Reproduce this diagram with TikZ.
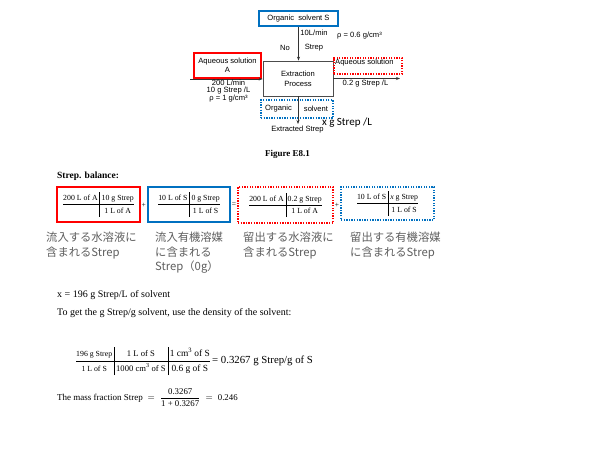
\documentclass[tikz,border=0pt]{standalone}
\usepackage{fontspec}
\usepackage{amsmath}
\setmainfont{Liberation Serif}
\newfontfamily\arialf{Liberation Sans}
\newfontfamily\jpf{Noto Sans CJK JP}
\newfontfamily\calf{Carlito}
\usetikzlibrary{arrows.meta}
\definecolor{obl}{RGB}{0,112,192}
\definecolor{ored}{RGB}{255,0,0}
\definecolor{jgray}{RGB}{95,95,95}
\newcommand{\convterm}[3]{\setlength{\tabcolsep}{2pt}\renewcommand{\arraystretch}{1.4}\begin{tabular}{@{}c|c@{}}#1&#2\\\hline &#3\end{tabular}}
\newcommand{\szA}{\fontsize{7.8}{9}\selectfont}
\newcommand{\szB}{\fontsize{8.6}{9}\selectfont}
\newcommand{\szC}{\fontsize{9.4}{9}\selectfont}
\tikzset{
 lbl/.style={font=\arialf\fontsize{7.6}{8}\selectfont, inner sep=0pt},
 flow/.style={draw=black!80, line width=0.7pt, -{Stealth[length=4pt,width=3pt]}},
 solidbox/.style={draw, line width=1.3pt},
 dotbox/.style={draw, line width=1.3pt, dash pattern=on 1.3pt off 1.3pt},
 jp/.style={font=\jpf\fontsize{11.3}{14.5}\selectfont, text=jgray, align=left, anchor=north west, inner sep=0pt},
 term/.style={font=\fontsize{7.8}{8.5}\selectfont, inner sep=0pt},
 opsign/.style={font=\fontsize{7.5}{8}\selectfont, inner sep=0pt},
 serif/.style={inner sep=0pt, anchor=west}
}
\begin{document}
\begin{tikzpicture}[x=1pt,y=-1pt]
\path[fill=white] (0,0) rectangle (600,450);
\useasboundingbox (0,0) rectangle (600,450);

% ---------- flow diagram ----------
\node[solidbox, draw=obl, minimum width=79pt, minimum height=15pt, lbl] (os) at (298.5,18.5) {Organic\ \ solvent S};
\node[draw=black!70, line width=0.8pt, minimum width=70pt, minimum height=35pt, lbl, align=center, font=\arialf\fontsize{7.6}{10}\selectfont] (ep) at (298,78.5) {Extraction\\Process};
\node[solidbox, draw=ored, minimum width=67pt, minimum height=25pt, lbl, align=center, font=\arialf\fontsize{7.6}{9}\selectfont] (aq) at (227.5,65.5) {Aqueous solution\\A};
\node[dotbox, draw=ored, minimum width=68pt, minimum height=16pt, inner sep=0pt] (aqo) at (368,66) {};
\node[lbl, anchor=west] (aqot) at (335,63) {Aqueous solution};
\node[dotbox, draw=obl, minimum width=72pt, minimum height=18pt, inner sep=0pt] (orb) at (297,109) {};
\node[lbl] (orb1) at (278.5,108.5) {Organic};
\node[lbl] (orb2) at (316,108.5) {solvent};

\coordinate (ain) at (190,79);
\coordinate (aout) at (400,78.5);
\coordinate (sout) at (298,124);
\draw[flow] (os.south) -- (os.south |- ep.north);
\draw[flow] (ain) -- (ain -| ep.west);
\draw[flow] (ep.east) -- (aout);
\draw[flow] (ep.south) -- (sout);

\node[lbl] (fl) at (314,33) {10L/min};
\node[lbl] (rho1) at (359.5,35.5) {ρ = 0.6 g/cm³};
\node[lbl] (no) at (285,48) {No};
\node[lbl] (st) at (314,48) {Strep};
\node[lbl, align=center, font=\arialf\fontsize{7.6}{7.6}\selectfont] (inl) at (228.5,91) {200 L/min\\10 g Strep /L\\ρ = 1 g/cm³};
\node[lbl] (outl) at (365.5,84) {0.2 g Strep /L};
\node[lbl] (ext) at (297.5,129.5) {Extracted Strep};
\node[inner sep=0pt, font=\calf\fontsize{11}{12}\selectfont] (xg) at (347,122.5) {x g Strep /L};
\node[inner sep=0pt, font=\bfseries\fontsize{9}{10}\selectfont] (fig) at (287.5,154) {Figure E8.1};

% ---------- balance ----------
\node[serif, font=\bfseries\fontsize{9.5}{10}\selectfont] (bal) at (57,176) {Strep. balance:};
\node[solidbox, draw=ored, minimum width=83pt, minimum height=35pt, term] (t1) at (98.5,204.5) {\convterm{200 L of A}{10 g Strep}{1 L of A}};
\node[solidbox, draw=obl, minimum width=82pt, minimum height=35pt, term] (t2) at (189,204.5) {\convterm{10 L of S}{0 g Strep}{1 L of S}};
\node[dotbox, draw=ored, minimum width=95pt, minimum height=36pt, term] (t3) at (285.5,205) {\convterm{200 L of A}{0.2 g Strep}{1 L of A}};
\node[dotbox, draw=obl, minimum width=93pt, minimum height=33pt, term] (t4) at (387.5,203.5) {\convterm{10 L of S}{\textit{x} g Strep}{1 L of S}};
\node[opsign] (p1) at (143.8,205) {+};
\node[opsign] (eq1) at (234,205) {=};
\node[opsign] (p2) at (337,205) {+};

\node[jp] (j1) at (46,232) {流入する水溶液に\\含まれるStrep};
\node[jp] (j2) at (155,232) {流入有機溶媒\\に含まれる\\Strep（0g）};
\node[jp] (j3) at (243,232) {留出する水溶液に\\含まれるStrep};
\node[jp] (j4) at (350,232) {留出する有機溶媒\\に含まれるStrep};

% ---------- solution ----------
\node[serif, font=\fontsize{10}{11}\selectfont] (xv) at (57,295) {x = 196 g Strep/L of solvent};
\node[serif, font=\fontsize{10}{11}\selectfont] (tg) at (57,313) {To get the g Strep/g solvent, use the density of the solvent:};
\node[serif, font=\fontsize{9}{10}\selectfont] (cv) at (76,361) {\setlength{\tabcolsep}{2pt}\renewcommand{\arraystretch}{1.4}\begin{tabular}{@{}c|c|c@{}}\szA 196 g Strep & \szB 1 L of S & \szC 1 cm\textsuperscript{3} of S\\\hline \szA 1 L of S & \szB 1000 cm\textsuperscript{3} of S & \szC 0.6 g of S\end{tabular}\ {\fontsize{10.8}{11}\selectfont = 0.3267 g Strep/g of S}};
\node[serif, font=\fontsize{8.8}{10}\selectfont] (mf) at (57,398) {{\fontsize{9}{10}\selectfont The mass fraction Strep} $\;=\;\dfrac{\text{0.3267}}{\text{1 + 0.3267}}\;=\;\text{0.246}$};
\end{tikzpicture}
\end{document}
